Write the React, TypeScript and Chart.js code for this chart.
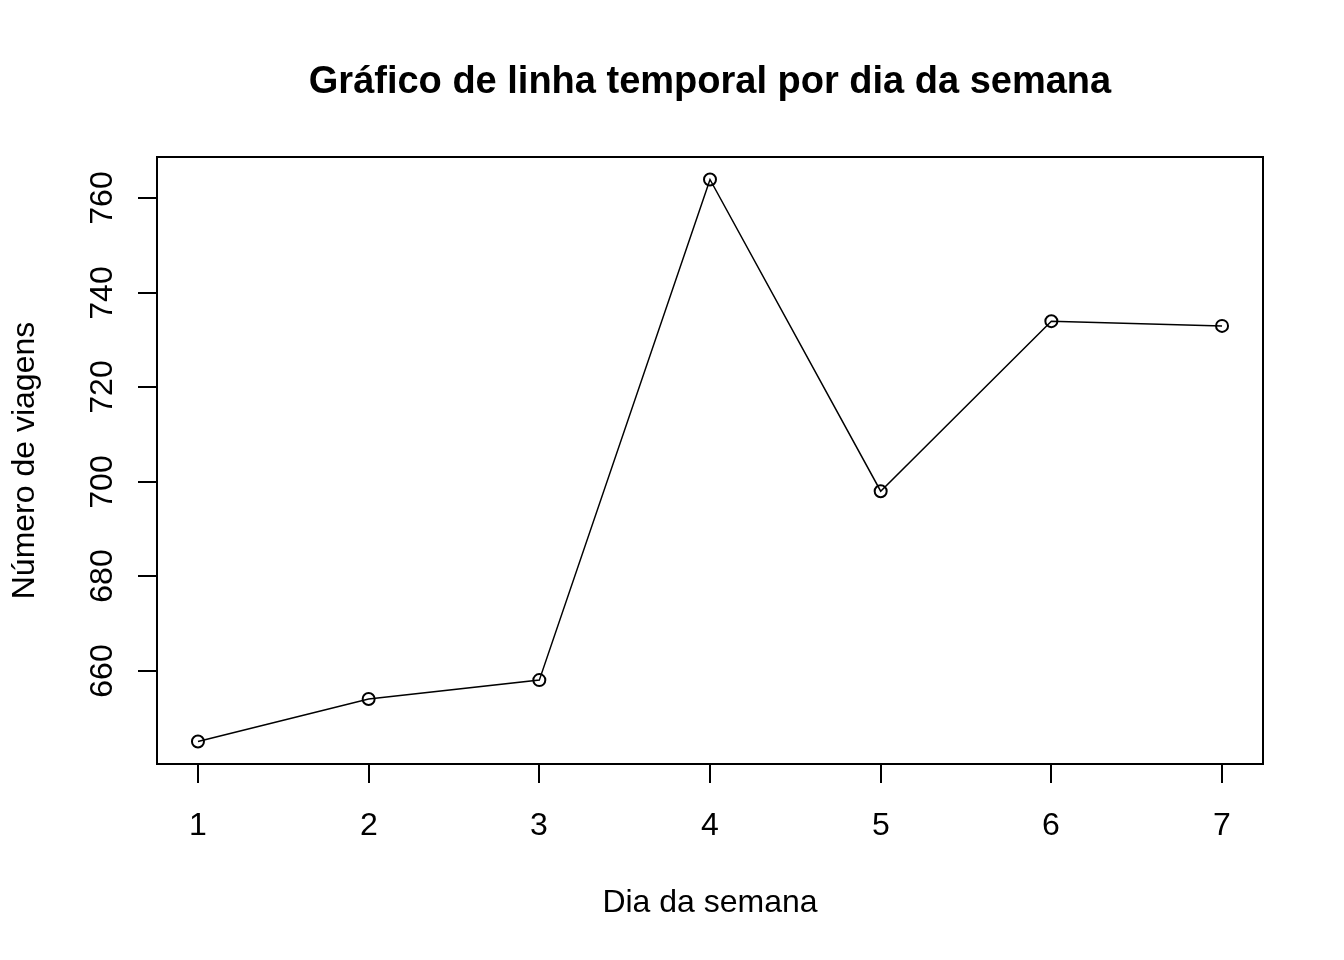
import React, { useEffect, useRef } from "react";
import { Chart, registerables } from "chart.js";

Chart.register(...registerables);

const days = [1, 2, 3, 4, 5, 6, 7];
const trips = [645, 654, 658, 764, 698, 734, 733];
const xTicks = [1, 2, 3, 4, 5, 6, 7];
const yTicks = [660, 680, 700, 720, 740, 760];
const titleText = "Gráfico de linha temporal por dia da semana";
const xTitle = "Dia da semana";
const yTitle = "Número de viagens";

const W = 1344;
const H = 960;
const FONT = "'Liberation Sans', Arial, sans-serif";

const axesPlugin = {
  id: "rAxes",
  afterDraw(chart: any) {
    const ctx = chart.ctx as CanvasRenderingContext2D;
    const area = chart.chartArea;
    const xs = chart.scales.x;
    const ys = chart.scales.y;
    ctx.save();
    ctx.strokeStyle = "#000";
    ctx.fillStyle = "#000";
    ctx.lineWidth = 2;
    // box
    ctx.strokeRect(area.left, area.top, area.right - area.left, area.bottom - area.top);
    // x ticks
    ctx.font = `32px ${FONT}`;
    ctx.textAlign = "center";
    ctx.textBaseline = "alphabetic";
    for (const v of xTicks) {
      const px = Math.round(xs.getPixelForValue(v));
      ctx.beginPath();
      ctx.moveTo(px, area.bottom);
      ctx.lineTo(px, area.bottom + 19);
      ctx.stroke();
      ctx.fillText(String(v), px, 835);
    }
    // y ticks
    for (const v of yTicks) {
      const py = Math.round(ys.getPixelForValue(v));
      ctx.beginPath();
      ctx.moveTo(area.left, py);
      ctx.lineTo(area.left - 19, py);
      ctx.stroke();
      ctx.save();
      ctx.translate(112, py);
      ctx.rotate(-Math.PI / 2);
      ctx.fillText(String(v), 0, 0);
      ctx.restore();
    }
    // axis titles
    ctx.fillText(xTitle, (area.left + area.right) / 2, 912);
    ctx.save();
    ctx.translate(34, (area.top + area.bottom) / 2);
    ctx.rotate(-Math.PI / 2);
    ctx.fillText(yTitle, 0, 0);
    ctx.restore();
    // main title
    ctx.font = `bold 38px ${FONT}`;
    ctx.fillText(titleText, (area.left + area.right) / 2, 93);
    ctx.restore();
  },
};

export default function App() {
  const ref = useRef<HTMLCanvasElement>(null);
  useEffect(() => {
    if (!ref.current) return;
    const chart = new Chart(ref.current, {
      type: "line",
      data: {
        datasets: [
          {
            data: days.map((d, i) => ({ x: d, y: trips[i] })),
            borderColor: "#000",
            borderWidth: 1.5,
            pointRadius: 6,
            pointBorderWidth: 2,
            pointBorderColor: "#000",
            pointBackgroundColor: "rgba(0,0,0,0)",
            tension: 0,
            fill: false,
            clip: false as any,
          },
        ],
      },
      options: {
        responsive: false,
        animation: false,
        devicePixelRatio: 1,
        layout: { padding: { left: 157, top: 157, right: 81, bottom: 196 } },
        plugins: { legend: { display: false }, tooltip: { enabled: false }, title: { display: false } },
        scales: {
          x: { type: "linear", min: 0.76, max: 7.24, display: false },
          y: { type: "linear", min: 640.24, max: 768.76, display: false },
        },
      },
      plugins: [axesPlugin],
    });
    return () => chart.destroy();
  }, []);
  return (
    <div style={{ position: "absolute", left: 0, top: 0, width: W, height: H, background: "#fff" }}>
      <canvas ref={ref} width={W} height={H} style={{ width: W, height: H, display: "block" }} />
    </div>
  );
}
